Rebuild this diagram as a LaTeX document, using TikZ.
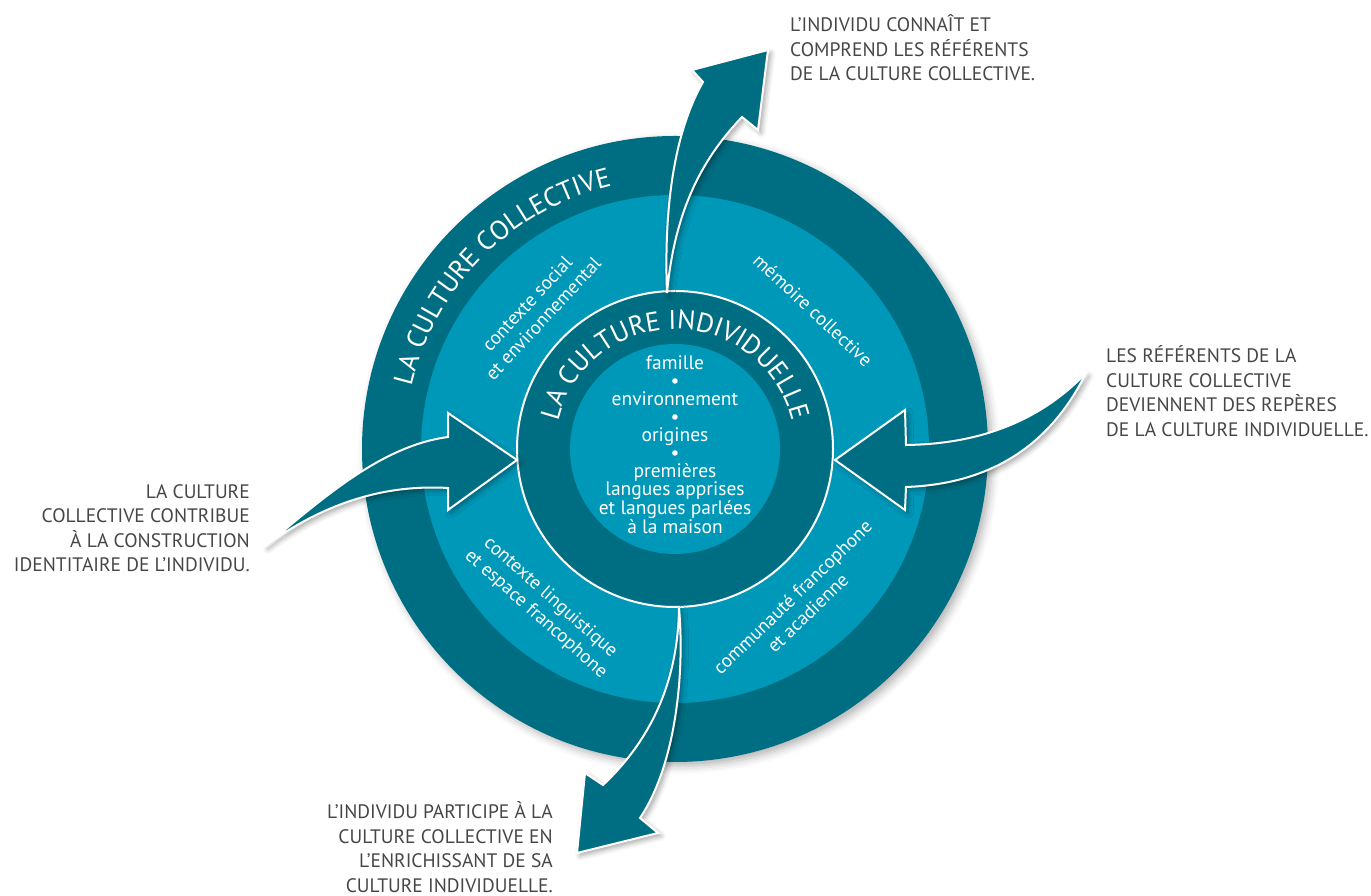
\documentclass[tikz,border=0pt]{standalone}
\usepackage{fontspec}
\setmainfont{PT Sans}
\usepackage{xcolor}
\usepackage{tikz}
\usetikzlibrary{positioning,decorations.text,shadows.blur}
\definecolor{tealdark}{RGB}{0,110,130}
\definecolor{teallight}{RGB}{0,152,185}
\definecolor{labelgray}{RGB}{70,70,70}
\tikzset{bigarrow/.style={
    % The shape:
    fill=tealdark,draw=white,line width=2pt,line join=miter,
    % The rest
    blur shadow={shadow xshift=3pt,shadow yshift=-3pt,shadow blur radius=5pt,shadow opacity=35}
  },
  outerlabel/.style={
    font=\fontsize{19.5}{24.5}\selectfont,text=labelgray,inner sep=0pt
  },
  segment/.style={
    font=\fontsize{19}{22}\selectfont,text=white,align=center,inner sep=0pt
  }
}

\begin{document}
\begin{tikzpicture}[x=1pt,y=1pt]
      \useasboundingbox (0,0) rectangle (1371,896);
      \coordinate (ctr) at (675,447);

      % rings
      \fill[tealdark,blur shadow={shadow xshift=4pt,shadow yshift=-4pt,shadow blur radius=8pt,shadow opacity=30}]
        (ctr) circle[radius=313];
      \fill[teallight] (ctr) circle[radius=254];
      \filldraw[fill=tealdark,draw=white,line width=2pt] (ctr) circle[radius=158];
      \fill[teallight] (ctr) circle[radius=105];

      % ring titles
      \path[decorate,decoration={text along path,text align=center,
          text={|\fontsize{27}{27}\selectfont\color{white}|LA CULTURE COLLECTIVE}}]
        ([shift={(200:271)}]ctr) arc[start angle=200,end angle=70,radius=271];
      \path[decorate,decoration={text along path,text align=center,
          text={|\fontsize{27}{27}\selectfont\color{white}|LA CULTURE INDIVIDUELLE}}]
        ([shift={(190:120)}]ctr) arc[start angle=190,end angle=-10,radius=120];

      % segments
      \node (social)     [segment,rotate=47]    at (535,585) {contexte social\\et environnemental};
      \node (memoire)    [segment,rotate=-43]   at (813,586) {mémoire collective};
      \node (linguist)   [segment,rotate=-41.5] at (543,290) {contexte linguistique\\et espace francophone};
      \node (communaute) [segment,rotate=44]    at (800,291) {communauté francophone\\et acadienne};

      \node (core) [font=\fontsize{19.5}{18}\selectfont,text=white,align=center] at (675,451) {
        famille\\•\\environnement\\•\\origines\\•\\premières\\langues apprises\\et langues parlées\\à la maison};

      % arrows
      \path[bigarrow] (667,603) .. controls (664,680) and (672,760) .. (703,814)
        -- (692,826) -- (768,846) -- (758,766) -- (742,779)
        .. controls (705,740) and (675,690) .. (667,603) -- cycle;
      \path[bigarrow] (265,350) .. controls (320,395) and (380,450) .. (448,459)
        -- (448,483) -- (517,436) -- (448,386) -- (448,408)
        .. controls (380,412) and (320,390) .. (265,350) -- cycle;
      \path[bigarrow] (1086,523) .. controls (1040,475) and (980,452) .. (906,451)
        -- (905,486) -- (835,436) -- (905,386) -- (906,409)
        .. controls (990,412) and (1050,450) .. (1086,523) -- cycle;
      \path[bigarrow] (679,288) .. controls (678,220) and (655,160) .. (603,111)
        -- (585,123) -- (577,43) -- (658,63) -- (640,78)
        .. controls (675,130) and (685,220) .. (679,288) -- cycle;

      % captions
      \node (know)    [outerlabel,anchor=west,align=left]  at (790,848)
        {L’INDIVIDU CONNAÎT ET\\COMPREND LES RÉFÉRENTS\\DE LA CULTURE COLLECTIVE.};
      \node (become)  [outerlabel,anchor=west,align=left]  at (1106,505)
        {LES RÉFÉRENTS DE LA\\CULTURE COLLECTIVE\\DEVIENNENT DES REPÈRES\\DE LA CULTURE INDIVIDUELLE.};
      \node (build)   [outerlabel,anchor=east,align=right] at (250,368)
        {LA CULTURE\\COLLECTIVE CONTRIBUE\\À LA CONSTRUCTION\\IDENTITAIRE DE L’INDIVIDU.};
      \node (enrich)  [outerlabel,anchor=east,align=right] at (553,49)
        {L’INDIVIDU PARTICIPE À LA\\CULTURE COLLECTIVE EN\\L’ENRICHISSANT DE SA\\CULTURE INDIVIDUELLE.};
\end{tikzpicture}
\end{document}
